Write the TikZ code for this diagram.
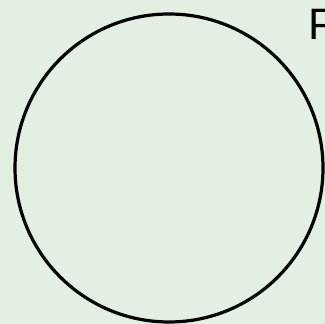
\documentclass[tikz,border=0pt]{standalone}
\usepackage{fontspec}
\setmainfont{Liberation Sans}
\usepackage{tikz}
\definecolor{paleground}{HTML}{E3EFE3}

\begin{document}
\begin{tikzpicture}[x=1pt,y=1pt,
  ring/.style={circle,draw=black,line width=3.2pt,minimum size=308pt,inner sep=0pt},
  tag/.style={font=\fontsize{44}{44}\selectfont,inner sep=0pt,anchor=base west}]
\useasboundingbox (0,0) rectangle (325,324);
\clip (0,0) rectangle (325,324);
\fill[paleground] (0,0) rectangle (325,324);
\node[ring] (disc) at (169,156) {};
\node[tag] (label) at (308,284) {P};
\end{tikzpicture}
\end{document}
